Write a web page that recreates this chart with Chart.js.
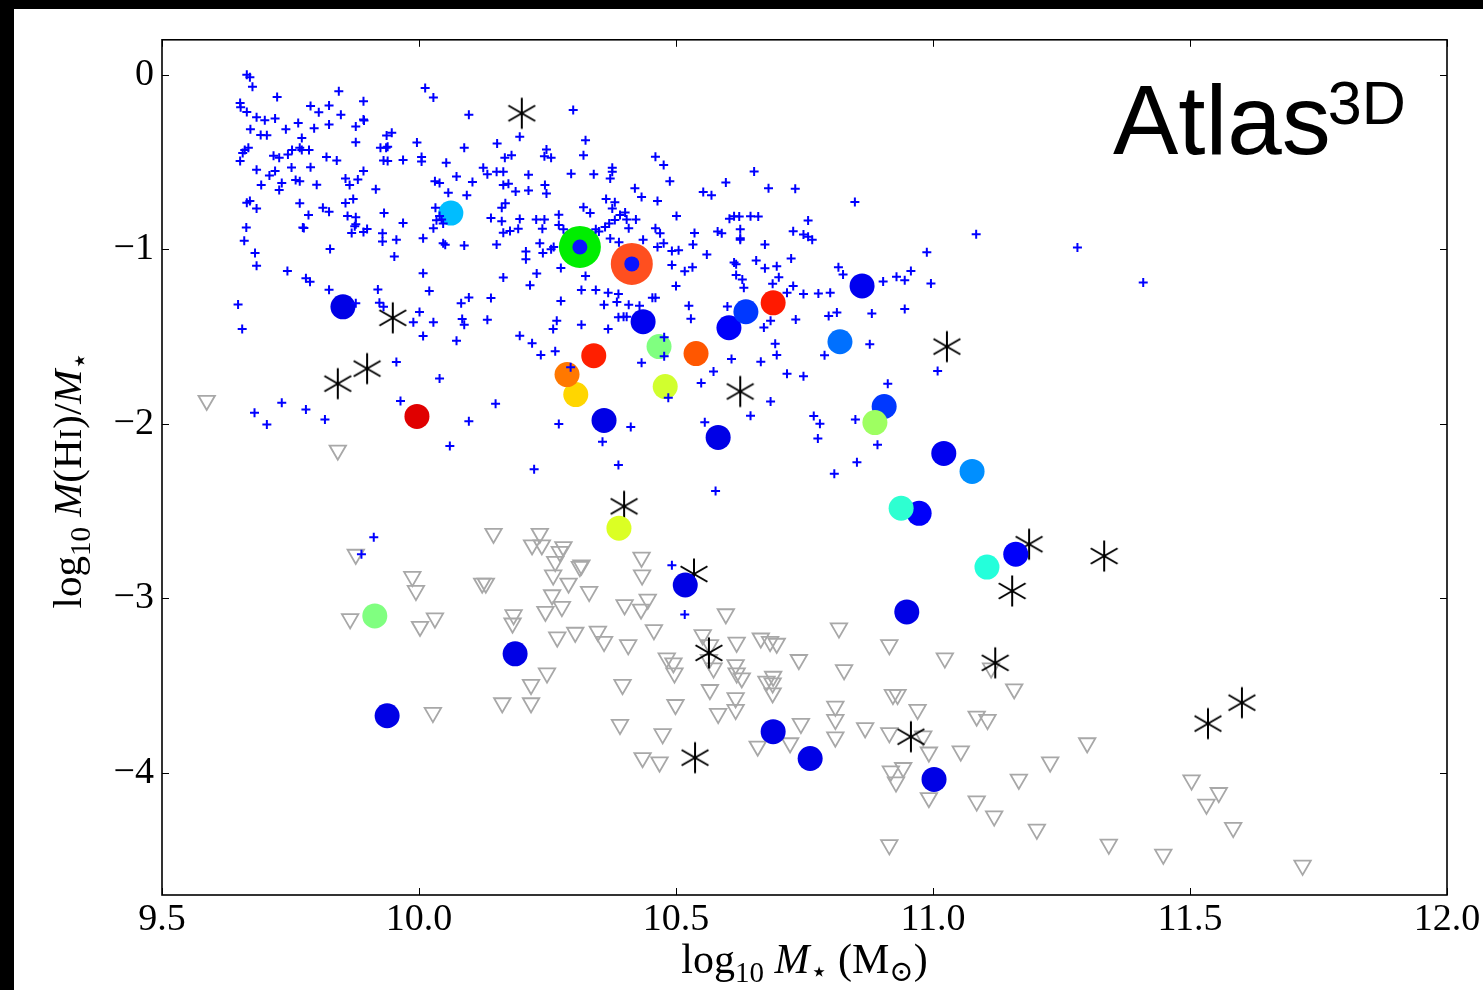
<!DOCTYPE html>
<html>
<head>
<meta charset="utf-8">
<script src="https://cdn.jsdelivr.net/npm/chart.js@4.4.0/dist/chart.umd.min.js"></script>
<style>
  html, body { margin: 0; padding: 0; background: #000; }
  #wrap { position: absolute; left: 14px; top: 9px; width: 1469px; height: 981px; background: #fff; }
</style>
</head>
<body>
<div id="wrap"><canvas id="chart" width="1469" height="981"></canvas></div>
<script>
// ---- axes ----
const xTicks = [9.5, 10.0, 10.5, 11.0, 11.5, 12.0];
const yTicks = [0, -1, -2, -3, -4];

// HI detections (blue +) : [log M*, log M(HI)/M*]
const detections = [
  [9.665,0.00],[9.671,-0.015],[9.676,-0.069],[9.724,-0.128],[9.844,-0.095],[9.892,-0.152],[10.012,-0.076],[10.028,-0.131],[10.097,-0.229],
  [9.652,-0.162],[9.653,-0.187],[9.665,-0.213],[9.684,-0.244],[9.700,-0.261],[9.720,-0.251],[9.672,-0.312],[9.692,-0.345],[9.704,-0.347],[9.741,-0.312],
  [9.765,-0.276],[9.789,-0.179],[9.805,-0.215],[9.825,-0.177],[9.848,-0.230],[9.796,-0.307],[9.825,-0.286],[9.877,-0.297],[9.892,-0.257],[9.893,-0.263],
  [9.772,-0.362],[9.877,-0.387],[9.925,-0.419],[9.936,-0.419],[9.939,-0.413],[9.937,-0.349],[9.947,-0.333],[9.996,-0.389],[10.088,-0.419],[10.152,-0.394],
  [9.668,-0.419],[9.661,-0.432],[9.657,-0.448],[9.652,-0.495],[9.717,-0.465],[9.728,-0.476],[9.745,-0.457],[9.753,-0.432],[9.768,-0.419],[9.772,-0.432],
  [9.786,-0.432],[9.820,-0.472],[9.840,-0.491],[9.931,-0.491],[9.939,-0.495],[9.969,-0.488],[10.005,-0.472],[10.005,-0.497],[10.053,-0.505],
  [9.684,-0.545],[9.709,-0.577],[9.720,-0.552],[9.733,-0.621],[9.728,-0.661],[9.693,-0.632],[9.752,-0.531],[9.760,-0.604],[9.768,-0.610],[9.789,-0.530],
  [9.801,-0.630],[9.857,-0.594],[9.865,-0.632],[9.881,-0.600],[9.892,-0.552],[9.916,-0.657],
  [10.031,-0.611],[10.040,-0.621],[10.073,-0.583],[10.104,-0.615],[10.125,-0.533],[10.133,-0.570],[10.151,-0.556],[10.057,-0.676],[10.093,-0.690],
  [9.665,-0.733],[9.671,-0.724],[9.684,-0.766],[9.768,-0.737],[9.785,-0.804],[9.813,-0.762],[9.825,-0.785],[9.857,-0.735],[9.872,-0.712],[9.861,-0.810],
  [9.877,-0.817],[9.877,-0.857],[9.875,-0.869],[9.869,-0.907],[9.892,-0.901],[9.899,-0.884],[9.932,-0.792],[9.969,-0.850],[9.929,-0.909],[9.929,-0.956],
  [9.956,-0.945],[10.032,-0.762],[10.040,-0.810],[10.044,-0.829],[10.034,-0.834],[10.047,-0.853],[10.028,-0.880],[10.008,-0.937],[10.047,-0.966],
  [10.051,-0.975],[10.088,-0.979],[10.140,-0.821],[10.151,-0.973],
  [9.664,-0.876],[9.660,-0.952],[9.681,-1.021],[9.684,-1.095],[9.774,-0.876],[9.776,-0.878],[9.827,-0.998],[9.952,-1.042],[9.744,-1.124],[9.780,-1.166],
  [9.788,-1.187],[9.825,-1.232],[9.920,-1.230],[10.008,-1.137],[10.020,-1.240],
  [9.648,-1.316],[9.877,-1.310],[9.923,-1.307],[9.931,-1.330],[10.001,-1.360],[9.989,-1.419],[10.028,-1.419],[10.082,-1.309],[10.097,-1.276],
  [10.140,-1.280],[10.084,-1.400],[10.088,-1.432],[10.133,-1.404],[9.656,-1.457],
  [10.300,-0.202],[10.196,-0.356],[10.324,-0.375],[10.248,-0.429],[10.167,-0.476],[10.180,-0.461],[10.244,-0.467],[10.257,-0.476],[10.320,-0.461],
  [10.460,-0.470],[10.476,-0.518],[10.164,-0.556],[10.213,-0.573],[10.296,-0.568],[10.340,-0.570],[10.376,-0.533],[10.376,-0.556],[10.372,-0.594],
  [10.488,-0.610],[10.597,-0.617],[10.652,-0.554],[10.680,-0.651],[10.732,-0.653],[10.848,-0.730],[10.420,-0.651],[10.433,-0.701],[10.464,-0.724],
  [10.553,-0.672],[10.569,-0.690],
  [10.164,-0.632],[10.174,-0.625],[10.188,-0.669],[10.213,-0.663],[10.245,-0.632],[10.248,-0.680],[10.161,-0.762],[10.168,-0.737],[10.161,-0.840],
  [10.196,-0.827],[10.228,-0.829],[10.244,-0.829],[10.272,-0.802],[10.320,-0.760],[10.333,-0.792],[10.364,-0.712],[10.381,-0.731],[10.376,-0.766],
  [10.401,-0.789],[10.391,-0.804],[10.381,-0.832],[10.404,-0.829],[10.422,-0.829],[10.501,-0.810],
  [10.164,-0.905],[10.177,-0.895],[10.193,-0.882],[10.240,-0.882],[10.272,-0.861],[10.281,-0.886],[10.344,-0.886],[10.350,-0.899],[10.362,-0.872],
  [10.370,-0.853],[10.408,-0.880],[10.460,-0.880],[10.469,-0.909],[10.208,-1.013],[10.208,-1.057],[10.235,-0.966],[10.241,-1.021],
  [10.257,-1.000],[10.262,-0.987],[10.276,-1.107],[10.372,-0.939],[10.389,-0.960],[10.436,-0.945],[10.464,-0.987],[10.476,-0.966],[10.492,-1.010],
  [10.505,-1.006],[10.533,-0.973],[10.536,-0.907],[10.560,-1.030],[10.492,-1.091],[10.517,-1.126],[10.532,-1.103],
  [10.604,-0.825],[10.613,-0.811],[10.623,-0.813],[10.645,-0.811],[10.660,-0.813],[10.581,-0.899],[10.589,-0.909],[10.625,-0.886],[10.625,-0.937],
  [10.625,-0.945],[10.673,-0.973],[10.728,-0.897],[10.757,-0.836],[10.748,-0.916],[10.757,-0.928],[10.765,-0.945],[10.613,-1.076],[10.617,-1.086],
  [10.656,-1.065],[10.617,-1.147],[10.629,-1.173],[10.632,-1.221],[10.673,-1.109],[10.696,-1.097],[10.724,-1.053],[10.700,-1.160],[10.688,-1.198],
  [10.728,-1.210],[10.716,-1.250],[10.748,-1.257],[10.777,-1.253],[10.800,-1.250],[10.816,-1.103],[10.825,-1.145],[10.903,-1.185],[10.929,-1.158],
  [10.945,-1.177],[10.957,-1.124],[10.988,-1.017],[10.996,-1.196],[11.084,-0.914],
  [10.229,-1.139],[10.216,-1.206],[10.164,-1.162],[10.324,-1.154],[10.316,-1.234],[10.344,-1.234],[10.368,-1.250],[10.388,-1.257],
  [10.360,-1.318],[10.385,-1.303],[10.408,-1.318],[10.429,-1.324],[10.454,-1.278],[10.460,-1.278],[10.500,-1.210],[10.525,-1.324],[10.529,-1.398],
  [10.276,-1.297],[10.268,-1.410],[10.261,-1.457],[10.316,-1.432],[10.368,-1.457],[10.388,-1.390],[10.398,-1.387],[10.404,-1.387],[10.600,-1.328],
  [10.684,-1.410],[10.733,-1.402],[10.797,-1.383],[10.813,-1.362],[10.881,-1.368],[10.945,-1.343],[10.671,-1.448],
  [11.281,-0.990],[11.409,-1.190],
  [9.956,-1.646],[10.040,-1.741],[9.964,-1.870],[10.008,-1.497],[10.073,-1.524],[9.680,-1.937],[9.704,-2.004],[9.733,-1.880],[9.780,-1.918],
  [9.817,-1.975],[10.060,-2.128],[10.097,-1.985],[10.149,-1.886],[9.912,-2.650],[9.888,-2.747],
  [10.196,-1.495],[10.220,-1.539],[10.237,-1.606],[10.265,-1.585],[10.295,-1.676],[10.477,-1.505],[10.477,-1.613],[10.433,-1.651],[10.573,-1.701],
  [10.549,-1.766],[10.608,-1.629],[10.665,-1.644],[10.693,-1.541],[10.696,-1.606],[10.716,-1.714],[10.748,-1.728],[10.789,-1.608],[10.877,-1.545],
  [11.009,-1.697],[10.912,-1.771],[10.684,-1.872],[10.645,-1.954],[10.556,-1.992],[10.768,-1.956],[10.780,-2.000],[10.776,-2.084],[10.849,-1.975],
  [10.892,-2.120],[10.852,-2.221],[10.808,-2.286],[10.485,-1.851],[10.412,-2.019],[10.272,-2.002],[10.357,-2.103],[10.224,-2.261],[10.388,-2.236],
  [10.577,-2.385],[10.492,-2.811],[10.517,-3.093]
];

// HI non-detections, upper limits (grey open triangles)
const upperLimits = [
  [9.587,-1.867],[9.842,-2.152],[10.145,-2.629],[9.877,-2.749],[9.987,-2.876],[9.994,-2.956],[10.123,-2.914],[10.130,-2.914],[9.866,-3.118],
  [10.002,-3.162],[10.031,-3.114],[10.027,-3.655],
  [10.235,-2.629],[10.220,-2.695],[10.239,-2.695],[10.281,-2.705],[10.274,-2.733],[10.265,-2.790],[10.316,-2.810],[10.313,-2.819],[10.261,-2.867],
  [10.291,-2.914],[10.259,-2.981],[10.331,-2.962],[10.433,-2.766],[10.434,-2.867],[10.400,-3.038],[10.432,-3.063],[10.445,-3.006],[10.278,-3.048],
  [10.246,-3.076],[10.184,-3.095],[10.182,-3.143],[10.269,-3.223],[10.304,-3.196],[10.348,-3.190],[10.360,-3.248],[10.407,-3.267],[10.457,-3.181],
  [10.597,-3.090],[10.552,-3.210],[10.566,-3.267],[10.618,-3.253],[10.665,-3.229],[10.683,-3.248],[10.696,-3.259],[10.817,-3.171],[10.915,-3.267],
  [10.482,-3.343],[10.495,-3.371],[10.497,-3.429],[10.249,-3.429],[10.218,-3.495],[10.162,-3.600],[10.218,-3.600],[10.396,-3.495],[10.499,-3.610],
  [10.573,-3.400],[10.566,-3.524],[10.582,-3.661],[10.616,-3.381],[10.618,-3.429],[10.628,-3.457],[10.616,-3.571],[10.616,-3.638],[10.689,-3.448],
  [10.688,-3.486],[10.688,-3.543],[10.676,-3.476],[10.739,-3.352],[10.827,-3.410],[11.023,-3.343],[10.391,-3.724],[10.474,-3.777],
  [10.435,-3.914],[10.468,-3.939],[10.659,-3.848],[10.722,-3.829],[10.743,-3.718],[10.810,-3.619],[10.810,-3.695],[10.810,-3.796],[10.868,-3.743],
  [10.915,-3.771],[10.922,-3.552],[10.931,-3.552],[10.970,-3.638],[10.981,-3.790],[10.992,-3.882],[11.054,-3.876],[10.918,-3.990],[10.942,-3.971],
  [10.928,-4.053],[10.992,-4.143],[10.915,-4.413],[11.085,-3.676],[11.085,-4.162],[10.564,-3.352],
  [11.113,-3.400],[11.158,-3.520],[11.106,-3.695],[11.167,-4.038],[11.228,-3.939],[11.300,-3.829],[11.119,-4.248],[11.202,-4.324],[11.342,-4.410],
  [11.448,-4.467],[11.503,-4.042],[11.556,-4.114],[11.532,-4.181],[11.584,-4.314],[11.719,-4.530]
];

// Atlas3D galaxies (filled circles): [x, y, colour level 0..1 on jet]
const atlasCircles = [
  [9.852,-1.330,0.10],[10.360,-1.981,0.10],[10.582,-2.078,0.10],[10.518,-2.924,0.10],[10.949,-3.078,0.10],[10.187,-3.318,0.10],
  [9.938,-3.673,0.10],[10.689,-3.764,0.10],[10.761,-3.918,0.10],[11.002,-4.038,0.10],[10.436,-1.415,0.11],[10.862,-1.210,0.11],
  [11.021,-2.170,0.11],[10.603,-1.450,0.12],[10.973,-2.513,0.12],[11.161,-2.747,0.12],[10.636,-1.358,0.18],[10.905,-1.901,0.18],
  [10.819,-1.530,0.235],[11.076,-2.273,0.265],[10.062,-0.793,0.31],[11.105,-2.821,0.41],[10.938,-2.484,0.42],[10.467,-1.558,0.50],
  [9.914,-3.101,0.50],[10.887,-1.993,0.53],[10.479,-1.787,0.58],[10.389,-2.598,0.59],[10.305,-1.833,0.665],[10.288,-1.718,0.757],
  [10.539,-1.598,0.79],[10.340,-1.610,0.845],[10.689,-1.307,0.85],[9.996,-1.958,0.905]
];

// two highlighted galaxies (big disc with blue centre)
const highlighted = [[10.313,-0.987],[10.414,-1.084]];
const highlightColours = ['#00ee00', '#ff4f1f'];

// asterisks
const asterisks = [
  [10.200,-0.221],[9.949,-1.393],[9.842,-1.770],[9.899,-1.684],[10.625,-1.815],[11.027,-1.558],[10.399,-2.473],[10.535,-2.861],
  [11.187,-2.690],[11.333,-2.758],[11.154,-2.958],[10.564,-3.313],[10.537,-3.913],[10.957,-3.793],[11.121,-3.370],[11.535,-3.718],[11.601,-3.598]
];

function jet(v){
  const c = t => Math.round(255 * Math.max(0, Math.min(1, 1.5 - Math.abs(t))));
  return `rgb(${c(4*v-3)},${c(4*v-2)},${c(4*v-1)})`;
}

// six-armed asterisk marker
function makeAsterisk(){
  const c = document.createElement('canvas');
  c.width = 34; c.height = 34;
  const g = c.getContext('2d');
  g.strokeStyle = '#000'; g.lineWidth = 2;
  const r = 15.5;
  [90, 30, -30].forEach(a => {
    const t = a * Math.PI / 180;
    g.beginPath();
    g.moveTo(17 - r*Math.cos(t), 17 - r*Math.sin(t));
    g.lineTo(17 + r*Math.cos(t), 17 + r*Math.sin(t));
    g.stroke();
  });
  return c;
}

const pts = arr => arr.map(p => ({x: p[0], y: p[1]}));
const serif = '"Liberation Serif", "DejaVu Serif", serif';

function drawRich(ctx, parts, size, cx, cy, angle){
  ctx.save();
  ctx.translate(cx, cy);
  ctx.rotate(angle);
  ctx.textAlign = 'left';
  ctx.textBaseline = 'alphabetic';
  ctx.fillStyle = '#000';
  const fontOf = p => `${p.it ? 'italic ' : ''}${Math.round(size * (p.s || 1))}px ${serif}`;
  let w = 0;
  parts.forEach(p => { ctx.font = fontOf(p); w += ctx.measureText(p.t).width; });
  let x = -w / 2;
  parts.forEach(p => {
    ctx.font = fontOf(p);
    ctx.fillText(p.t, x, size * (p.dy || 0));
    x += ctx.measureText(p.t).width;
  });
  ctx.restore();
}

// frame, inward ticks, axis titles and the Atlas3D label
const decor = {
  id: 'decor',
  afterDraw(chart){
    const {ctx, chartArea: a, scales: {x, y}} = chart;
    ctx.save();
    ctx.strokeStyle = '#000';
    ctx.lineWidth = 1;
    const line = (x1, y1, x2, y2) => { ctx.beginPath(); ctx.moveTo(x1, y1); ctx.lineTo(x2, y2); ctx.stroke(); };
    xTicks.forEach(v => {
      const p = Math.round(x.getPixelForValue(v)) + 0.5;
      line(p, a.bottom, p, a.bottom - 7);
      line(p, a.top, p, a.top + 7);
    });
    yTicks.forEach(v => {
      const p = Math.round(y.getPixelForValue(v)) + 0.5;
      line(a.left, p, a.left + 7, p);
      line(a.right, p, a.right - 7, p);
    });
    ctx.lineWidth = 1.6;
    ctx.strokeRect(a.left, a.top, a.right - a.left, a.bottom - a.top);

    drawRich(ctx, [
      {t: 'log'}, {t: '10', s: 0.7, dy: 0.22}, {t: ' '}, {t: 'M', it: 1},
      {t: '\u22C6', s: 0.7, dy: 0.2}, {t: ' (M'}, {t: '\u2299', s: 0.7, dy: 0.2}, {t: ')'}
    ], 42, (a.left + a.right) / 2, 964, 0);

    drawRich(ctx, [
      {t: 'log'}, {t: '10', s: 0.7, dy: 0.22}, {t: ' '}, {t: 'M', it: 1}, {t: '(H'}, {t: 'I', s: 0.78},
      {t: ')/'}, {t: 'M', it: 1}, {t: '\u22C6', s: 0.7, dy: 0.2}
    ], 41, 67, 471, -Math.PI / 2);

    ctx.fillStyle = '#000';
    ctx.textAlign = 'left';
    ctx.textBaseline = 'alphabetic';
    ctx.font = '98px "Liberation Sans", Arial, sans-serif';
    ctx.fillText('Atlas', 1099, 145);
    const aw = ctx.measureText('Atlas').width;
    ctx.font = '61px "Liberation Sans", Arial, sans-serif';
    ctx.fillText('3D', 1099 + aw - 3, 115);
    ctx.restore();
  }
};

new Chart(document.getElementById('chart'), {
  type: 'scatter',
  data: {
    datasets: [
      { data: pts(highlighted), pointStyle: 'circle', pointRadius: 7.5, pointBackgroundColor: '#0a14ff', pointBorderWidth: 0 },
      { data: pts(detections), pointStyle: 'cross', pointRadius: 4.5, pointBorderWidth: 2, pointBorderColor: '#0000ff' },
      { data: pts(atlasCircles), pointStyle: 'circle', pointRadius: 12.5, pointBorderWidth: 0,
        pointBackgroundColor: atlasCircles.map(p => jet(p[2])) },
      { data: pts(highlighted), pointStyle: 'circle', pointRadius: 21, pointBorderWidth: 0, pointBackgroundColor: highlightColours },
      { data: pts(asterisks), pointStyle: makeAsterisk(), pointRadius: 15 },
      { data: pts(upperLimits), pointStyle: 'triangle', rotation: 180, pointRadius: 9.5, pointBorderWidth: 1.8,
        pointBorderColor: '#a8a8a8', pointBackgroundColor: 'rgba(0,0,0,0)' }
    ]
  },
  options: {
    responsive: false,
    animation: false,
    events: [],
    layout: { padding: { left: 0, top: 30, right: 36, bottom: 0 } },
    plugins: { legend: { display: false }, tooltip: { enabled: false } },
    scales: {
      x: {
        type: 'linear', min: 9.5, max: 12.0,
        afterBuildTicks: s => { s.ticks = xTicks.map(v => ({value: v})); },
        afterFit: s => { s.height = 95; },
        grid: { display: false, drawTicks: false },
        border: { display: false },
        ticks: { padding: 2, color: '#000', font: { family: serif, size: 38 }, callback: v => v.toFixed(1) }
      },
      y: {
        type: 'linear', min: -4.7, max: 0.2,
        afterBuildTicks: s => { s.ticks = yTicks.map(v => ({value: v})); },
        afterFit: s => { s.width = 148; },
        grid: { display: false, drawTicks: false },
        border: { display: false },
        ticks: { padding: 8, color: '#000', font: { family: serif, size: 38 },
                 callback: v => v < 0 ? '\u2212' + Math.abs(v) : String(v) }
      }
    }
  },
  plugins: [decor]
});
</script>
</body>
</html>
